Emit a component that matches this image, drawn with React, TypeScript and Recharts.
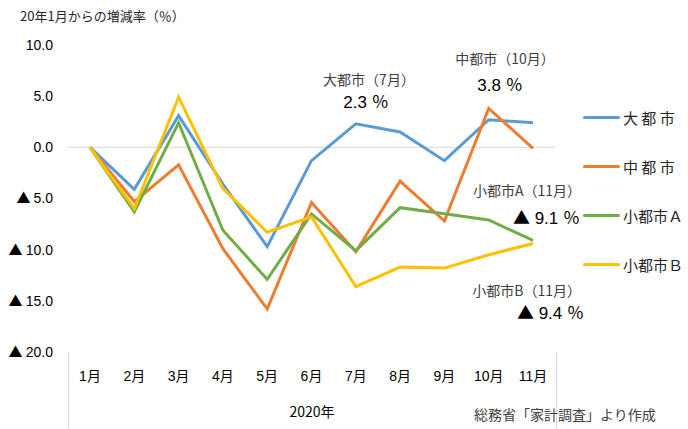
import {
  LineChart,
  Line,
  XAxis,
  YAxis,
  ReferenceLine,
  Legend,
} from "recharts";

const months = ["1月", "2月", "3月", "4月", "5月", "6月", "7月", "8月", "9月", "10月", "11月"];
const daitoshi = [0, -4.1, 3.1, -3.6, -9.7, -1.3, 2.3, 1.5, -1.3, 2.7, 2.4];
const chutoshi = [0, -5.3, -1.7, -9.9, -15.8, -5.4, -10.2, -3.3, -7.2, 3.8, -0.1];
const shotoshiA = [0, -6.3, 2.4, -8.1, -12.9, -6.5, -10.1, -5.9, -6.5, -7.1, -9.1];
const shotoshiB = [0, -6.0, 4.9, -4.0, -8.3, -6.8, -13.6, -11.7, -11.8, -10.5, -9.4];
const yTicks = [10, 5, 0, -5, -10, -15, -20];

const seriesList = [
  { key: "daitoshi", name: "大 都 市", color: "#5B9BD5" },
  { key: "chutoshi", name: "中 都 市", color: "#ED7D31" },
  { key: "shotoshiA", name: "小都市Ａ", color: "#70AD47" },
  { key: "shotoshiB", name: "小都市Ｂ", color: "#FFC000" },
];

const data = months.map((m, i) => ({
  month: m,
  daitoshi: daitoshi[i],
  chutoshi: chutoshi[i],
  shotoshiA: shotoshiA[i],
  shotoshiB: shotoshiB[i],
}));

const numFont = "'Liberation Sans', Arial, 'Noto Sans CJK JP', sans-serif";
const jpFont = "'Noto Sans CJK JP', 'Liberation Sans', sans-serif";

// Y軸の目盛（マイナスは▲表記）
const YTick = ({ x, y, payload }) => {
  const v = payload.value;
  const num = Math.abs(v).toFixed(1);
  return (
    <text x={x} y={y} dy="0.35em" textAnchor="end" fontSize={14} fill="#000" fontFamily={numFont}>
      {v < 0 && (
        <tspan fontFamily={jpFont} fontSize={14}>
          ▲{" "}
        </tspan>
      )}
      <tspan>{num}</tspan>
    </text>
  );
};

const LegendContent = () => (
  <div>
    {seriesList.map((s) => (
      <div
        key={s.key}
        style={{ display: "flex", alignItems: "center", height: 49 }}
      >
        <div style={{ width: 37, height: 3, background: s.color, borderRadius: 2 }} />
        <span style={{ marginLeft: 3, fontFamily: jpFont, fontSize: 15, color: "#262626" }}>
          {s.name}
        </span>
      </div>
    ))}
  </div>
);

// 注記テキスト
const Note = ({ x, y, size, children, align = "center", color = "#404040", font = jpFont }) => (
  <div
    style={{
      position: "absolute",
      left: x,
      top: y,
      transform: align === "center" ? "translateX(-50%)" : "translateX(-100%)",
      fontFamily: font,
      fontSize: size,
      color,
      whiteSpace: "nowrap",
      lineHeight: 1,
    }}
  >
    {children}
  </div>
);

const Tri = () => <span style={{ fontFamily: jpFont }}>▲</span>;

export default function App() {
  return (
    <div
      style={{
        position: "absolute",
        left: 0,
        top: 0,
        width: 688,
        height: 429,
        background: "#fff",
      }}
    >
      <LineChart
        width={688}
        height={429}
        data={data}
        margin={{ top: 45, right: 28, bottom: 0, left: 0 }}
      >
        <XAxis
          dataKey="month"
          axisLine={false}
          tickLine={false}
          tickSize={0}
          tickMargin={19}
          height={77}
          interval={0}
          padding={{ left: 22, right: 22 }}
          tick={{ fontFamily: numFont, fontSize: 14, fill: "#000" }}
        />
        <YAxis
          width={68}
          domain={[-20, 10]}
          ticks={yTicks}
          axisLine={false}
          tickLine={false}
          tickSize={0}
          tickMargin={15}
          tick={<YTick />}
        />
        <ReferenceLine y={0} stroke="#d9d9d9" strokeWidth={1} />
        {seriesList.map((s) => (
          <Line
            key={s.key}
            type="linear"
            dataKey={s.key}
            name={s.name}
            stroke={s.color}
            strokeWidth={3}
            dot={false}
            isAnimationActive={false}
          />
        ))}
        <Legend
          layout="vertical"
          align="right"
          verticalAlign="top"
          content={<LegendContent />}
          wrapperStyle={{ position: "absolute", left: 583, top: 93, width: 105 }}
        />
      </LineChart>

      {/* 区切り線 */}
      <div style={{ position: "absolute", left: 68, top: 352, width: 1, height: 77, background: "#d9d9d9" }} />
      <div style={{ position: "absolute", left: 556, top: 352, width: 1, height: 77, background: "#d9d9d9" }} />

      <div
        style={{
          position: "absolute",
          left: 20,
          top: 9,
          fontFamily: jpFont,
          fontSize: 13,
          color: "#262626",
          lineHeight: 1,
        }}
      >
        20年1月からの増減率（％）
      </div>

      <Note x={369} y={72} size={14}>大都市（7月）</Note>
      <Note x={366} y={94} size={17} color="#000" font={numFont}>2.3 ％</Note>
      <Note x={505} y={51} size={14}>中都市（10月）</Note>
      <Note x={500} y={77} size={17} color="#000" font={numFont}>3.8 ％</Note>
      <Note x={581} y={183} size={14} align="right">小都市A（11月）</Note>
      <Note x={580} y={208} size={17} align="right" color="#000" font={numFont}>
        <Tri /> 9.1 ％
      </Note>
      <Note x={581} y={283} size={14} align="right">小都市B（11月）</Note>
      <Note x={584} y={303} size={17} align="right" color="#000" font={numFont}>
        <Tri /> 9.4 ％
      </Note>

      <Note x={312} y={404} size={14} color="#000">2020年</Note>
      <div
        style={{
          position: "absolute",
          left: 474,
          top: 407,
          fontFamily: jpFont,
          fontSize: 14,
          color: "#404040",
          lineHeight: 1,
          whiteSpace: "nowrap",
        }}
      >
        総務省「家計調査」より作成
      </div>
    </div>
  );
}
